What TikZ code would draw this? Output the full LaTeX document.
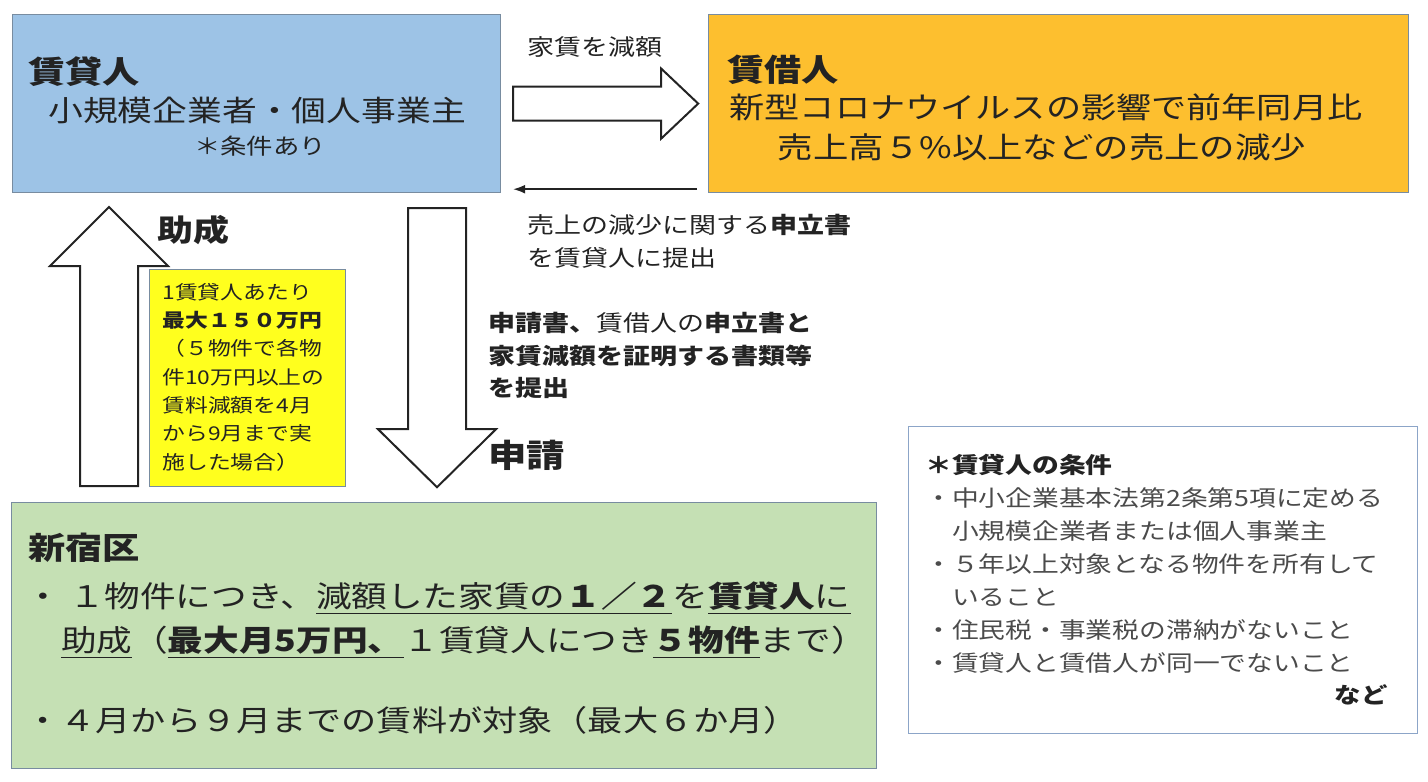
\documentclass[tikz,border=0pt]{standalone}
\usepackage{fontspec}
\setmainfont[FakeStretch=1.2]{Noto Sans CJK JP}
\usepackage{tikz}
\usetikzlibrary{calc}
\usetikzlibrary{positioning}
\usetikzlibrary{arrows.meta}

\definecolor{lessorblue}{RGB}{157,195,230}
\definecolor{lesseeorange}{RGB}{253,191,47}
\definecolor{wardgreen}{RGB}{197,224,180}
\definecolor{capyellow}{RGB}{255,255,30}
\definecolor{boxedge}{RGB}{120,140,160}
\definecolor{condedge}{RGB}{140,165,200}
\definecolor{inkgray}{RGB}{35,35,35}
\definecolor{softgray}{RGB}{75,75,75}

\newcommand{\fs}[2]{\fontsize{#1}{#2}\selectfont}
\newcommand{\undl}[1]{\setbox0\hbox{#1}\rlap{\rule[-6.5pt]{\wd0}{1.6pt}}\box0}

\begin{document}
\begin{tikzpicture}[x=1pt,y=-1pt,thick,
    panel/.style={draw=boxedge,line width=1.2pt,anchor=north west,inner sep=0pt},
    blockarrow/.style={draw=inkgray,line width=2pt,fill=white,line join=miter},
    txt/.style={inner sep=0pt,anchor=west,text=inkgray,align=left}]

    \useasboundingbox (0,0) rectangle (1428,782);

    % boxes
    \node[panel,fill=lessorblue,minimum width=488pt,minimum height=178pt] (lessor) at (12,14) {};
    \node[panel,fill=lesseeorange,minimum width=700pt,minimum height=178pt] (lessee) at (708,14) {};
    \node[panel,fill=capyellow,minimum width=196pt,minimum height=217pt] (cap) at (149,269) {};
    \node[panel,fill=wardgreen,minimum width=865pt,minimum height=266pt] (ward) at (11,502) {};
    \node[panel,draw=condedge,fill=white,minimum width=509pt,minimum height=307pt] (cond) at (908,426) {};

    % block arrows
    \draw[blockarrow]
      ([xshift=12pt,yshift=17pt]lessor.east) -- ++(148,0) -- ++(0,-18) -- ++(37,35)
      -- ++(-37,35) -- ++(0,-18) -- ++(-148,0) -- cycle;
    \draw[blockarrow]
      ([xshift=69pt,yshift=16pt]ward.north west) -- ++(0,-220) -- ++(-30,0) -- ++(59,-59)
      -- ++(59,59) -- ++(-30,0) -- ++(0,220) -- cycle;
    \draw[blockarrow]
      ([xshift=396pt,yshift=-15pt]lessor.south west) -- ++(0,221) -- ++(-30,0) -- ++(59,58)
      -- ++(59,-58) -- ++(-30,0) -- ++(0,-221) -- cycle;

    \draw[-{Latex[length=12pt,width=9pt]},line width=1.5pt,inkgray]
      ([xshift=-11pt,yshift=4pt]lessee.south west) -- ([xshift=12pt,yshift=4pt]lessor.south east);

    % lessor
    \node[txt,font=\fs{31}{31}\bfseries] (lessorhead) at (28,72) {賃貸人};
    \node[txt,anchor=center,font=\fs{29}{29}] (lessorkind) at (257,110) {小規模企業者・個人事業主};
    \node[txt,anchor=center,font=\fs{22}{22}] (lessornote) at (260,146) {＊条件あり};

    % lessee
    \node[txt,font=\fs{31}{31}\bfseries] (lesseehead) at (727,70) {賃借人};
    \node[txt,anchor=center,font=\fs{29.3}{29.3}] (lesseeline1) at (1046,107) {新型コロナウイルスの影響で前年同月比};
    \node[txt,anchor=center,font=\fs{29.5}{29.5}] (lesseeline2) at (1042,147) {売上高５\%以上などの売上の減少};

    % labels between
    \node[txt,font=\fs{22.5}{22.5}] (cutlabel) at (527,47) {家賃を減額};
    \node[txt,font=\fs{22.5}{33}] (statelabel) at (527,241.5) {売上の減少に関する\textbf{申立書}\\を賃貸人に提出};
    \node[txt,font=\fs{22.5}{32.5}\bfseries] (applylabel) at (488,355.5)
      {申請書、\textmd{賃借人の}申立書と\\家賃減額を証明する書類等\\を提出};
    \node[txt,font=\fs{32}{32}\bfseries] (applyhead) at (488,455) {申請};
    \node[txt,font=\fs{30}{30}\bfseries] (granthead) at (157,230) {助成};

    % cap
    \node[txt,font=\fs{19}{28.3}] (captext) at (162,377)
      {1賃貸人あたり\\\textbf{最大１５０万円}\\（５物件で各物\\件10万円以上の\\賃料減額を4月\\から9月まで実\\施した場合）};

    % ward
    \node[txt,font=\fs{31}{31}\bfseries] (wardhead) at (28,548) {新宿区};
    \node[txt,font=\fs{29.7}{44}] (wardrule) at (25,620)
      {・ １物件につき、\undl{減額した家賃の\textbf{１／２}}を\undl{\textbf{賃貸人}に}\\
       　\undl{助成}（\undl{\textbf{最大月5万円、}}１賃貸人につき\undl{\textbf{５物件}}まで）};
    \node[txt,font=\fs{29.3}{29.3}] (wardterm) at (25,720) {・４月から９月までの賃料が対象（最大６か月）};

    % conditions
    \node[txt,font=\fs{22.3}{33},text=softgray] (condtext) at (925,564)
      {\textcolor{inkgray}{\textbf{＊賃貸人の条件}}\\・中小企業基本法第2条第5項に定める\\　小規模企業者または個人事業主\\・５年以上対象となる物件を所有して\\　いること\\・住民税・事業税の滞納がないこと\\・賃貸人と賃借人が同一でないこと};
    \node[txt,anchor=east,font=\fs{22}{22}\bfseries] (condetc) at (1388,695) {など};

\end{tikzpicture}
\end{document}
